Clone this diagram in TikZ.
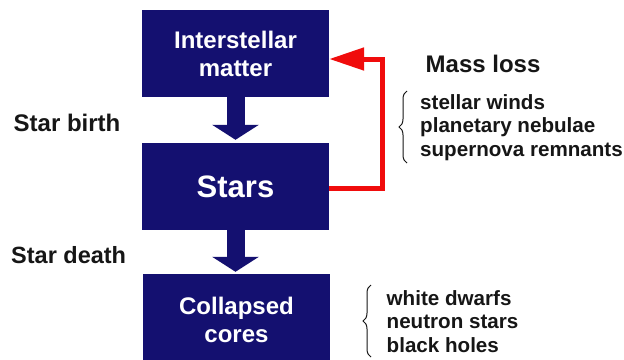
\documentclass[tikz,border=0pt]{standalone}
\usepackage{fontspec}
\setmainfont{Liberation Sans}
\usetikzlibrary{arrows.meta,decorations.pathreplacing}
\definecolor{navy}{RGB}{20,16,112}
\definecolor{redline}{RGB}{240,12,12}
\definecolor{ink}{RGB}{22,22,22}
\begin{document}
\begin{tikzpicture}[x=1pt,y=-1pt,
  box/.style={draw=none,fill=navy,text=white,inner sep=0pt,minimum width=187pt,
    align=center,font=\bfseries\fontsize{24}{28}\selectfont},
  blockarrow/.style={draw=navy,line width=18pt,line cap=butt,
    -{Triangle[length=15pt,width=46pt]}},
  label/.style={inner sep=0pt,text=ink,font=\bfseries\fontsize{24}{28}\selectfont},
  listtxt/.style={inner sep=0pt,text=ink,align=left,anchor=north west,
    font=\bfseries\fontsize{20.6}{23.5}\selectfont},
  bracestyle/.style={draw=ink,line width=1pt,decorate,decoration={brace,amplitude=8pt}}]
\useasboundingbox[fill=white] (0,0) rectangle (624,359);
\node[box,minimum height=87pt] (im) at (235.5,53.5) {Interstellar\\matter};
\node[box,minimum height=87pt,font=\bfseries\fontsize{31}{34}\selectfont] (st) at (235.5,186.5) {Stars};
\node[box,minimum height=92pt,minimum width=187pt] (cc) at (236.5,320) {Collapsed\\cores};
\draw[blockarrow,shorten >=3pt] (im.south) -- (st.north);
\draw[blockarrow,shorten >=2pt] (st.south) -- (st.south |- cc.north);
\coordinate (rt) at (382,59);
\draw[redline,line width=5pt,line join=miter,-{Triangle[length=35pt,width=22pt]}]
  ([yshift=-1.5pt]st.east) -| (rt) -- ([yshift=-5.5pt]im.east);
\node[label,anchor=base west] (birth) at (13.5,131) {Star birth};
\node[label,anchor=base west,font=\bfseries\fontsize{23.5}{28}\selectfont] (death) at (11,263) {Star death};
\node[label,anchor=base west] (ml) at (425.5,72) {Mass loss};
\node[listtxt] (ml list) at (420,94) {stellar winds\\planetary nebulae\\supernova remnants};
\node[listtxt] (cc list) at (386.5,290) {white dwarfs\\neutron stars\\black holes};
\coordinate (b1a) at (407,163);
\coordinate (b1b) at (407,91);
\coordinate (b2a) at (371,357);
\coordinate (b2b) at (371,285);
\draw[bracestyle] (b1a) -- (b1b);
\draw[bracestyle] (b2a) -- (b2b);
\end{tikzpicture}
\end{document}
